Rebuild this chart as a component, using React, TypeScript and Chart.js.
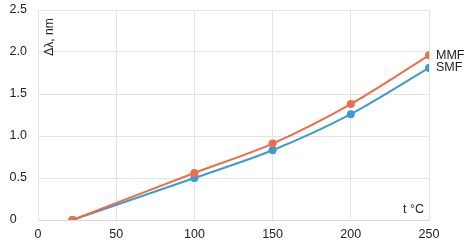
import React, { useEffect, useRef } from "react";
import { Chart, registerables } from "chart.js";

Chart.register(...registerables);

const temps = [22, 100, 150, 200, 250];
const mmf = [0, 0.56, 0.91, 1.38, 1.96];
const smf = [0, 0.5, 0.83, 1.26, 1.81];
const seriesNames = ["MMF", "SMF"];
const yTitle = "Δλ, nm";
const xTitle = "t °C";

const ORANGE = "#EF6C45";
const BLUE = "#3C9BD0";
const FONT = "'Liberation Sans', Arial, sans-serif";

const labelsPlugin = {
  id: "customLabels",
  afterDatasetsDraw(chart: any) {
    const { ctx, chartArea, scales } = chart;
    ctx.save();
    ctx.fillStyle = "#222";
    ctx.font = `12.5px ${FONT}`;
    ctx.textBaseline = "middle";
    ctx.textAlign = "left";
    chart.data.datasets.forEach((ds: any, i: number) => {
      const last = ds.data[ds.data.length - 1];
      const x = scales.x.getPixelForValue(last.x);
      const y = scales.y.getPixelForValue(last.y);
      ctx.fillText(seriesNames[i], x + 7, y);
    });
    // y title rotated
    ctx.save();
    ctx.translate(chartArea.left + 12, chartArea.top + 27);
    ctx.rotate(-Math.PI / 2);
    ctx.textAlign = "center";
    ctx.font = `12px ${FONT}`;
    ctx.fillText(yTitle, 0, 0);
    ctx.restore();
    // x title
    ctx.textAlign = "right";
    ctx.textBaseline = "alphabetic";
    ctx.fillText(xTitle, chartArea.right - 5, chartArea.bottom - 7);
    ctx.restore();
  },
};

export default function App() {
  const ref = useRef<HTMLCanvasElement | null>(null);
  useEffect(() => {
    if (!ref.current) return;
    const mk = (vals: number[]) => temps.map((t, i) => ({ x: t, y: vals[i] }));
    const chart = new Chart(ref.current, {
      type: "line",
      data: {
        datasets: [
          {
            label: seriesNames[0],
            data: mk(mmf),
            borderColor: ORANGE,
            backgroundColor: ORANGE,
            borderWidth: 2,
            pointRadius: 4,
            pointBorderWidth: 0,
            tension: 0.3,
          },
          {
            label: seriesNames[1],
            data: mk(smf),
            borderColor: BLUE,
            backgroundColor: BLUE,
            borderWidth: 2,
            pointRadius: 4,
            pointBorderWidth: 0,
            tension: 0.3,
          },
        ],
      },
      options: {
        animation: false,
        responsive: false,
        maintainAspectRatio: false,
        layout: { autoPadding: false, padding: { top: 10, right: 35, left: 0, bottom: 0 } },
        plugins: { legend: { display: false }, tooltip: { enabled: false } },
        scales: {
          x: {
            type: "linear",
            min: 0,
            max: 250,
            ticks: { stepSize: 50, color: "#222", font: { family: FONT, size: 12.5 }, padding: 7 },
            grid: { color: "#E3E3E3", drawTicks: false },
            border: { color: "#D9D9D9" },
            afterFit: (s: any) => { s.height = 24; s.paddingLeft = 0; s.paddingRight = 0; },
          },
          y: {
            min: 0,
            max: 2.5,
            ticks: {
              stepSize: 0.5,
              color: "#222",
              font: { family: FONT, size: 12.5 },
              padding: 11,
              callback: (v: any) => (v === 0 ? "0   " : Number(v).toFixed(1)),
            },
            grid: { color: "#E3E3E3", drawTicks: false },
            border: { color: "#E3E3E3" },
            afterFit: (s: any) => { s.width = 38; s.paddingTop = 0; s.paddingBottom = 0; },
          },
        },
      },
      plugins: [labelsPlugin],
    } as any);
    return () => chart.destroy();
  }, []);
  return (
    <div style={{ position: "fixed", left: 0, top: 0, width: 464, height: 244, background: "#fff" }}>
      <canvas ref={ref} width={464} height={244} style={{ width: 464, height: 244 }} />
    </div>
  );
}
